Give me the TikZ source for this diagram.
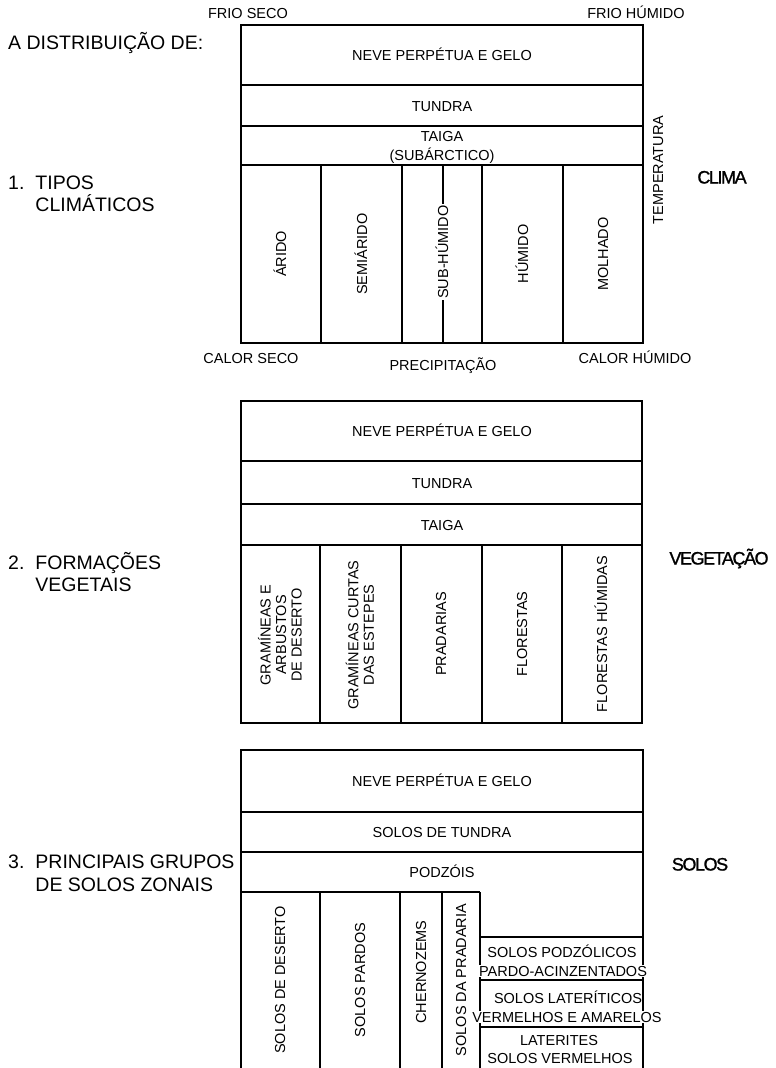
\documentclass[tikz,border=0pt]{standalone}
\usepackage{fontspec}
\setmainfont{Liberation Sans}
\newfontfamily\tightsans[LetterSpace=-8, FakeBold=1.2]{Liberation Sans}
\tikzset{
  box/.style={line width=1.5pt},
  lbl/.style={font=\fontsize{14.5}{17}\selectfont, inner sep=0pt, text height=10.4pt, text depth=0pt},
  vlbl/.style={lbl, rotate=90},
  vlbltwo/.style={font=\fontsize{14.5}{15.5}\selectfont, inner sep=0pt, rotate=90, align=center},
  corner/.style={font=\fontsize{14.5}{17}\selectfont, inner sep=0pt, anchor=base},
  side/.style={font=\fontsize{19.5}{21}\selectfont, inner sep=0pt, anchor=base west},
  topic/.style={font=\tightsans\fontsize{18}{18}\selectfont, inner sep=0pt, text height=13pt, text depth=0pt},
}
\begin{document}
\begin{tikzpicture}[x=1pt, y=-1pt]
  \useasboundingbox (0,0) rectangle (776,1068);
  \node[side] (titulo) at (8,49) {A DISTRIBUIÇÃO DE:};
  \node[side] (tipos) at (8,189) {\begin{tabular}[t]{@{}l@{\hspace{11pt}}l@{}}1. & TIPOS\\[-1pt] & CLIMÁTICOS\end{tabular}};
  \node[side] (formacoes) at (8,569) {\begin{tabular}[t]{@{}l@{\hspace{11pt}}l@{}}2. & FORMAÇÕES\\[1pt] & VEGETAIS\end{tabular}};
  \node[side] (grupos) at (8,868) {\begin{tabular}[t]{@{}l@{\hspace{11pt}}l@{}}3. & PRINCIPAIS GRUPOS\\[2pt] & DE SOLOS ZONAIS\end{tabular}};
  \node[topic] (clima) at (722,177) {CLIMA};
  \node[topic] (vegetacao) at (719,558) {VEGETAÇÃO};
  \node[topic] (solos) at (700,864) {SOLOS};

  \draw[box] (241,25) rectangle (643,343);
  \draw[box] (241,85) -- (643,85);
  \draw[box] (241,126) -- (643,126);
  \draw[box] (241,165) -- (643,165);
  \foreach \x in {321,402,443,482,563}
    \draw[box] (\x,165) -- (\x,343);
  \node[corner] (frioseco) at (248,18) {FRIO SECO};
  \node[corner] (friohumido) at (636,18) {FRIO HÚMIDO};
  \node[corner] (calorseco) at (251,363) {CALOR SECO};
  \node[corner] (precipitacao) at (443,370) {PRECIPITAÇÃO};
  \node[corner] (calorhumido) at (635,363) {CALOR HÚMIDO};
  \node[vlbl] (temperatura) at (658,170) {TEMPERATURA};
  \node[lbl] (neve1) at (442,55) {NEVE PERPÉTUA E GELO};
  \node[lbl] (tundra1) at (442,106) {TUNDRA};
  \node[font=\fontsize{14.5}{19}\selectfont, inner sep=0pt, align=center] (taiga1) at (442,147) {TAIGA\\(SUBÁRCTICO)};
  \node[vlbl] (arido) at (281,254) {ÁRIDO};
  \node[vlbl] (semiarido) at (362,254) {SEMIÁRIDO};
  \node[vlbl, fill=white, inner sep=1pt] (subhumido) at (443,252) {SUB-HÚMIDO};
  \node[vlbl] (humido) at (523,254) {HÚMIDO};
  \node[vlbl] (molhado) at (603,254) {MOLHADO};

  \draw[box] (241,401) rectangle (642,723);
  \draw[box] (241,461) -- (642,461);
  \draw[box] (241,504) -- (642,504);
  \draw[box] (241,545) -- (642,545);
  \foreach \x in {320,401,482,562}
    \draw[box] (\x,545) -- (\x,723);
  \node[lbl] (neve2) at (442,431) {NEVE PERPÉTUA E GELO};
  \node[lbl] (tundra2) at (442,483) {TUNDRA};
  \node[lbl] (taiga2) at (442,525) {TAIGA};
  \node[vlbltwo] (arbustos) at (280,635) {GRAMÍNEAS E\\ARBUSTOS\\DE DESERTO};
  \node[vlbltwo] (estepes) at (360,635) {GRAMÍNEAS CURTAS\\DAS ESTEPES};
  \node[vlbl] (pradarias) at (441,634) {PRADARIAS};
  \node[vlbl] (florestas) at (522,634) {FLORESTAS};
  \node[vlbl] (florhumidas) at (602,634) {FLORESTAS HÚMIDAS};

  \draw[box] (241,1068) -- (241,750) -- (643,750) -- (643,1068);
  \draw[box] (241,812) -- (643,812);
  \draw[box] (241,852) -- (643,852);
  \draw[box] (241,892) -- (480,892);
  \foreach \x in {320,400,442,480}
    \draw[box] (\x,892) -- (\x,1068);
  \foreach \y in {937,980,1027}
    \draw[box] (480,\y) -- (643,\y);
  \node[lbl] (neve3) at (442,781) {NEVE PERPÉTUA E GELO};
  \node[lbl] (tundra3) at (442,832) {SOLOS DE TUNDRA};
  \node[lbl] (podzois) at (442,872) {PODZÓIS};
  \node[vlbl] (deserto) at (280,980) {SOLOS DE DESERTO};
  \node[vlbl] (pardos) at (360,980) {SOLOS PARDOS};
  \node[vlbl] (chernozems) at (421,972) {CHERNOZEMS};
  \node[vlbl] (pradaria) at (461,980) {SOLOS DA PRADARIA};
  \node[lbl] (podzolicos) at (562,952) {SOLOS PODZÓLICOS};
  \node[lbl, fill=white, inner sep=0.5pt] (acinzentados) at (563,971) {PARDO-ACINZENTADOS};
  \node[lbl] (lateriticos) at (568,998) {SOLOS LATERÍTICOS};
  \node[lbl, fill=white, inner sep=0.5pt] (amarelos) at (567,1017) {VERMELHOS E AMARELOS};
  \node[lbl] (laterites) at (559,1040) {LATERITES};
  \node[lbl] (vermelhos) at (560,1058) {SOLOS VERMELHOS};
\end{tikzpicture}
\end{document}
